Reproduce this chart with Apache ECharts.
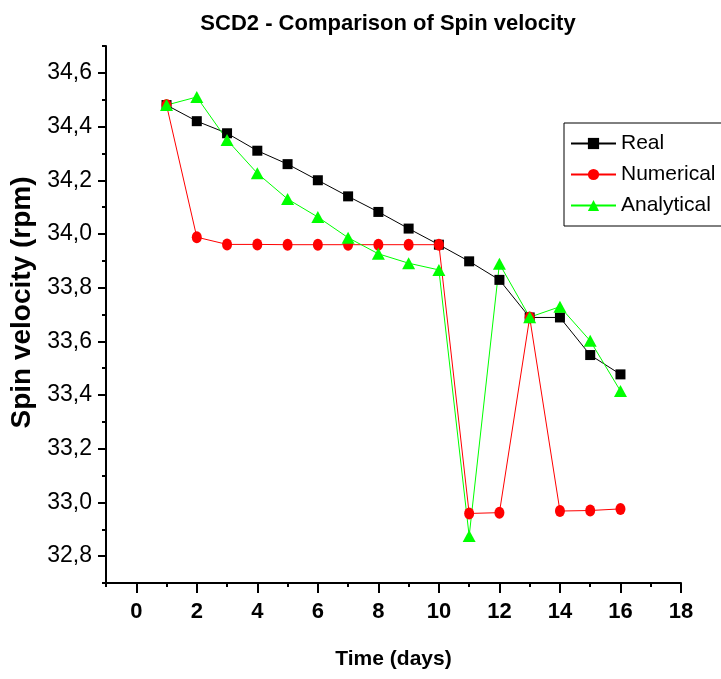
<!DOCTYPE html>
<html><head><meta charset="utf-8">
<script src="https://cdn.jsdelivr.net/npm/echarts@6/dist/echarts.min.js"></script>
<style>html,body{margin:0;padding:0;background:#fff}#c{width:721px;height:679px}</style>
</head><body><div id="c"></div>
<script>
var days = [1,2,3,4,5,6,7,8,9,10,11,12,13,14,15,16];
var realVals = [34.48,34.42,34.375,34.31,34.26,34.20,34.14,34.082,34.02,33.96,33.898,33.829,33.689,33.689,33.549,33.477];
var numericalVals = [34.48,33.988,33.961,33.961,33.96,33.96,33.96,33.96,33.96,33.96,32.959,32.962,33.689,32.968,32.97,32.976];
var analyticalVals = [34.48,34.51,34.35,34.226,34.13,34.063,33.986,33.926,33.891,33.866,32.875,33.889,33.69,33.729,33.602,33.415];
var xMajorTicks = [0,2,4,6,8,10,12,14,16,18];
var yMajorTicks = [32.8,33.0,33.2,33.4,33.6,33.8,34.0,34.2,34.4,34.6];
var seriesNames = ['Real','Numerical','Analytical'];

var NARROW = '"Liberation Sans Narrow","Arial Narrow","Liberation Sans",Arial,sans-serif';
var SANS = '"Liberation Sans",Arial,sans-serif';
function pairs(v){ return days.map(function(d,i){ return [d, v[i]]; }); }

var chart = echarts.init(document.getElementById('c'), null, {renderer:'canvas'});
var axisLineStyle = {color:'#000', width:2};
chart.setOption({
  animation:false,
  backgroundColor:'#fff',
  title:{text:'SCD2 - Comparison of Spin velocity', left:383, top:8, textAlign:'center',
    textStyle:{fontFamily:NARROW, fontWeight:'bold', fontSize:22, color:'#000'}},
  legend:{orient:'vertical', left:564, top:123, padding:[10,8,10,6], itemGap:10,
    itemWidth:45, itemHeight:14, borderColor:'#000', borderWidth:1,
    data:seriesNames,
    textStyle:{fontFamily:SANS, fontSize:21, color:'#000'}},
  grid:{left:106, right:40, top:46, bottom:96, containLabel:false},
  xAxis:[{
    type:'value', min:-1, max:18, position:'bottom',
    name:'Time (days)', nameLocation:'middle', nameGap:66,
    nameTextStyle:{fontFamily:NARROW, fontWeight:'bold', fontSize:21, color:'#000'},
    axisLine:{show:true, onZero:false, lineStyle:axisLineStyle},
    axisTick:{show:true, customValues:xMajorTicks, length:10, lineStyle:{color:'#000', width:2}},
    axisLabel:{show:true, customValues:xMajorTicks, margin:18, fontFamily:NARROW, fontWeight:'bold', fontSize:22, color:'#000'},
    splitLine:{show:false}
  },{
    type:'value', min:-1, max:18, interval:1, position:'bottom',
    axisLine:{show:false, onZero:false}, axisLabel:{show:false},
    axisTick:{show:true, length:4, lineStyle:{color:'#000', width:2}},
    splitLine:{show:false}
  }],
  yAxis:[{
    type:'value', min:32.7, max:34.7, position:'left',
    name:'Spin velocity (rpm)', nameLocation:'middle', nameGap:70, nameRotate:90,
    nameTextStyle:{fontFamily:SANS, fontWeight:'bold', fontSize:28, color:'#000', padding:[0,0,0,24]},
    axisLine:{show:true, onZero:false, lineStyle:axisLineStyle},
    axisTick:{show:true, customValues:yMajorTicks, length:8, lineStyle:{color:'#000', width:2}},
    axisLabel:{show:true, customValues:yMajorTicks, margin:14, fontFamily:SANS, fontSize:23, color:'#000',
      formatter:function(v){ return v.toFixed(1).replace('.', ','); }},
    splitLine:{show:false}
  },{
    type:'value', min:32.7, max:34.7, interval:0.1, position:'left',
    axisLine:{show:false, onZero:false}, axisLabel:{show:false},
    axisTick:{show:true, length:4, lineStyle:{color:'#000', width:2}},
    splitLine:{show:false}
  }],
  series:[
    {name:'Real', type:'line', data:pairs(realVals), symbol:'rect', symbolSize:10,
      itemStyle:{color:'#000'}, lineStyle:{color:'#000', width:1}},
    {name:'Numerical', type:'line', data:pairs(numericalVals), symbol:'circle', symbolSize:[10,12],
      itemStyle:{color:'#ff0000'}, lineStyle:{color:'#ff0000', width:1}},
    {name:'Analytical', type:'line', data:pairs(analyticalVals), symbol:'triangle', symbolSize:[13,12],
      itemStyle:{color:'#00ff00'}, lineStyle:{color:'#00ff00', width:1}}
  ]
});
</script></body></html>
